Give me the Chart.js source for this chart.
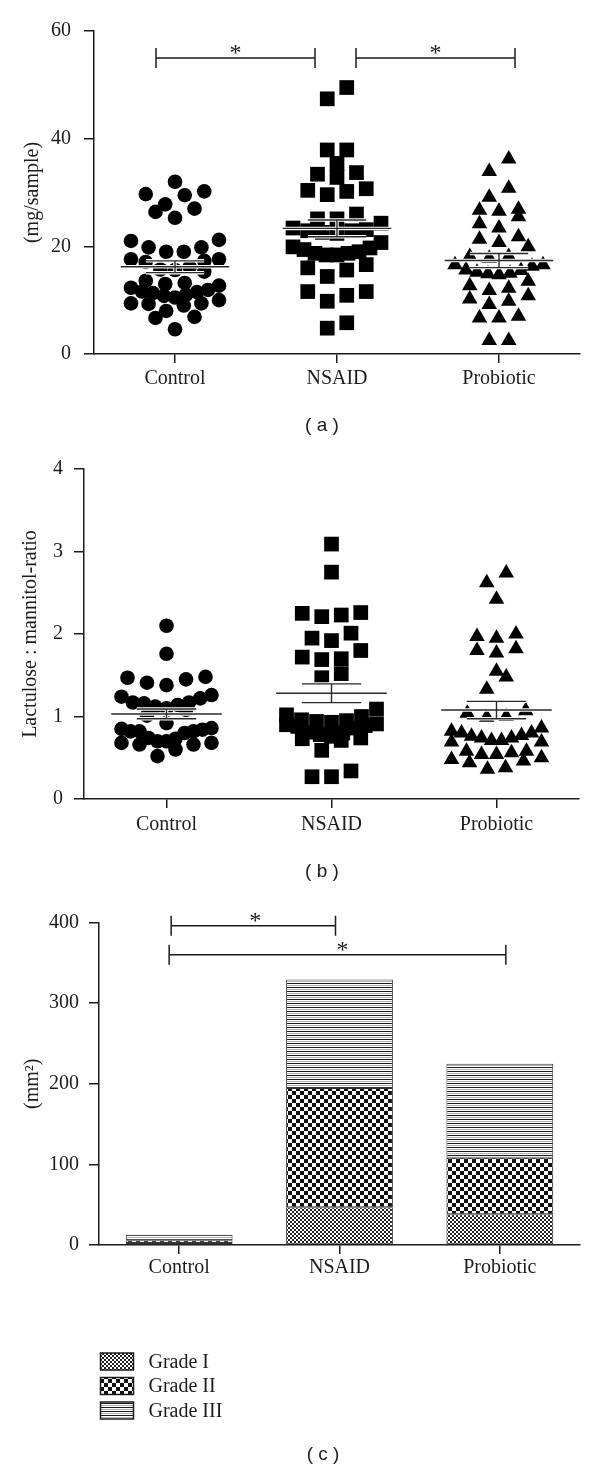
<!DOCTYPE html>
<html>
<head>
<meta charset="utf-8">
<script src="https://cdn.jsdelivr.net/npm/chart.js@4.4.1/dist/chart.umd.min.js"></script>
<style>
html, body { margin: 0; padding: 0; background: #fff; }
#wrap { position: relative; width: 600px; height: 1471px; overflow: hidden; background: #fff; }
canvas { position: absolute; left: 0; }
</style>
</head>
<body>
<div id="wrap">
  <canvas id="chartA" width="600" height="460" style="top:0px"></canvas>
  <canvas id="chartB" width="600" height="460" style="top:440px"></canvas>
  <canvas id="chartC" width="600" height="576" style="top:895px"></canvas>
</div>
<script>
// groups
var groups = ['Control', 'NSAID', 'Probiotic'];

// (a) mg/sample
var fecalControl = [32.0, 30.2, 29.5, 29.7, 27.8, 27.0, 26.4, 25.3, 21.2, 21.0, 19.8, 19.0, 19.8, 19.0, 17.6, 17.3, 17.1, 17.6,
    15.7, 15.3, 15.6, 16.2, 13.0, 12.7, 13.2, 13.6, 11.5, 10.8, 10.0, 9.4, 9.3, 11.6, 9.4, 10.5, 11.3, 11.0, 11.9, 12.3, 9.0,
    6.9, 6.7, 8.0, 4.6];
var fecalNsaid = [49.5, 47.4, 37.9, 35.4, 37.9, 32.8, 33.4, 33.7, 30.4, 29.6, 30.2, 30.7, 26.0, 25.1, 25.1, 23.4, 22.9, 22.4,
    22.6, 22.9, 23.1, 24.3, 20.7, 19.7, 19.0, 18.4, 18.4, 18.7, 18.7, 19.4, 19.9, 16.0, 16.6, 15.6, 14.4, 11.6, 10.9, 11.6,
    9.8, 4.8, 5.8];
var fecalProbiotic = [36.2, 33.9, 30.8, 29.1, 26.7, 25.5, 26.5, 26.9, 23.4, 24.2, 21.3, 20.7, 21.8, 19.9, 17.8, 18.1, 18.1,
    16.6, 16.3, 15.6, 15.0, 14.7, 14.9, 15.2, 15.5, 16.6, 13.5, 12.2, 11.8, 12.7, 10.2, 9.2, 10.8, 9.8, 6.7, 6.7, 7.0, 2.5, 2.5];

// (b) lactulose:mannitol ratio
var lmControl = [2.10, 1.76, 1.47, 1.41, 1.38, 1.45, 1.48, 1.26, 1.22, 1.17, 1.14, 1.10, 1.08, 1.12, 1.16, 1.17, 1.24, 1.01,
    0.92, 0.85, 0.82, 0.82, 0.80, 0.82, 0.84, 0.86, 0.74, 0.70, 0.68, 0.66, 0.66, 0.68, 0.70, 0.73, 0.60, 0.52];
var lmNsaid = [3.09, 2.75, 2.25, 2.21, 2.26, 2.23, 2.01, 1.95, 1.92, 1.80, 1.70, 1.72, 1.69, 1.52, 1.47, 1.09, 1.00, 0.94,
    0.90, 0.88, 0.89, 0.91, 0.96, 1.02, 0.93, 0.86, 0.95, 0.80, 0.74, 0.71, 0.73, 0.78, 0.81, 0.76, 0.59, 0.34, 0.27, 0.27];
var lmProbiotic = [2.74, 2.62, 2.42, 1.97, 2.00, 1.95, 1.82, 1.77, 1.80, 1.55, 1.48, 1.33, 1.04, 1.00, 0.99, 1.07, 0.86,
    0.80, 0.76, 0.74, 0.71, 0.69, 0.69, 0.71, 0.74, 0.77, 0.80, 0.82, 0.58, 0.56, 0.54, 0.48, 0.44, 0.36, 0.38, 0.46, 0.50,
    0.54, 0.58];

// (c) mm2 by grade
var gradeLabels = ['Grade I', 'Grade II', 'Grade III'];
var gradeI = [2.5, 46.8, 38.1];
var gradeII = [3.5, 147.9, 70.0];
var gradeIII = [6.8, 134.7, 116.9];

// significance: [group from, group to, level]
var sigA = [[0, 1, 55], [1, 2, 55]];
var sigC = [[0, 1, 396], [0, 2, 360]];

var SERIF = '"Liberation Serif", "Times New Roman", serif';
var SANS = '"Liberation Sans", Arial, sans-serif';
var INK = '#1c1c1c';

function makePattern(w, h, draw) {
    var c = document.createElement('canvas');
    c.width = w; c.height = h;
    var g = c.getContext('2d');
    g.fillStyle = '#fff';
    g.fillRect(0, 0, w, h);
    draw(g);
    return c.getContext('2d').createPattern(c, 'repeat');
}
var patI = makePattern(4, 4, function(g) {
    g.fillStyle = '#222';
    g.fillRect(0, 0, 2, 2); g.fillRect(2, 2, 2, 2);
});
var patII = makePattern(8, 8, function(g) {
    g.fillStyle = '#111';
    g.fillRect(0, 0, 4, 4); g.fillRect(4, 4, 4, 4);
});
var patIII = makePattern(4, 4, function(g) {
    g.fillStyle = '#1a1a1a';
    g.fillRect(0, 0, 4, 1);
    g.fillStyle = '#b0b0b0';
    g.fillRect(0, 2, 4, 1);
});

function meanSem(vals) {
    var n = vals.length;
    var m = vals.reduce(function(a, b) { return a + b; }, 0) / n;
    var sd = Math.sqrt(vals.reduce(function(a, b) { return a + (b - m) * (b - m); }, 0) / (n - 1));
    return { m: m, se: sd / Math.sqrt(n) };
}

function summaryPoints(series) {
    var pts = [];
    series.forEach(function(vals, i) {
        var g = i + 1, s = meanSem(vals);
        pts.push({ x: g - 0.335, y: s.m }, { x: g + 0.335, y: s.m }, { x: g, y: null },
            { x: g - 0.18, y: s.m + s.se }, { x: g + 0.18, y: s.m + s.se }, { x: g, y: null },
            { x: g - 0.18, y: s.m - s.se }, { x: g + 0.18, y: s.m - s.se }, { x: g, y: null },
            { x: g, y: s.m - s.se }, { x: g, y: s.m + s.se }, { x: g, y: null });
    });
    return pts;
}

// annotation plugin: brackets, stars, caption, pattern legend
var annot = {
    id: 'annot',
    afterDatasetsDraw: function(chart, args, opts) {
        var ctx = chart.ctx, x = chart.scales.x, y = chart.scales.y;
        ctx.save();
        ctx.strokeStyle = INK;
        ctx.fillStyle = INK;
        ctx.lineWidth = 1.5;
        (opts.brackets || []).forEach(function(b) {
            var x0 = x.getPixelForValue(b.from) + b.dx[0];
            var x1 = x.getPixelForValue(b.to) + b.dx[1];
            var yy = y.getPixelForValue(b.level);
            ctx.beginPath();
            ctx.moveTo(x0, yy); ctx.lineTo(x1, yy);
            ctx.moveTo(x0, yy - 10); ctx.lineTo(x0, yy + 10);
            ctx.moveTo(x1, yy - 10); ctx.lineTo(x1, yy + 10);
            ctx.stroke();
            ctx.font = '24px ' + SERIF;
            ctx.textAlign = 'center';
            ctx.textBaseline = 'alphabetic';
            ctx.fillText('*', (x0 + x1) / 2 + (b.starDx || 0), yy + 2);
        });
        if (opts.legend) {
            var L = opts.legend;
            ctx.font = '20px ' + SERIF;
            ctx.textAlign = 'left';
            ctx.textBaseline = 'middle';
            chart.data.datasets.forEach(function(ds, i) {
                var top = L.y + i * L.gap;
                ctx.fillStyle = ds.backgroundColor;
                ctx.fillRect(L.x, top, L.w, L.h);
                ctx.strokeRect(L.x, top, L.w, L.h);
                ctx.fillStyle = INK;
                ctx.fillText(ds.label, L.textX, top + L.h / 2 + 1);
            });
        }
        if (opts.caption) {
            ctx.fillStyle = INK;
            ctx.font = '19px ' + SANS;
            ctx.textAlign = 'center';
            ctx.textBaseline = 'middle';
            ctx.fillText(opts.caption.text, opts.caption.x, opts.caption.y);
        }
        ctx.restore();
    }
};

function yScale(max, step, title, axisX, titlePad, tickPad) {
    return {
        type: 'linear', min: 0, max: max,
        ticks: { stepSize: step, padding: tickPad, color: INK, font: { family: SERIF, size: 20 } },
        grid: { drawOnChartArea: false, tickLength: 10, color: INK, lineWidth: 1.5 },
        border: { color: INK, width: 1.5 },
        title: { display: true, text: title, color: INK, font: { family: SERIF, size: 20 }, padding: { top: titlePad, bottom: 0 } },
        afterFit: function(s) { s.width = axisX; s.paddingTop = 0; s.paddingBottom = 0; }
    };
}

function xScaleDots(tickPad) {
    return {
        type: 'linear', min: 0.5, max: 3.5,
        afterBuildTicks: function(s) { s.ticks = groups.map(function(g, i) { return { value: i + 1 }; }); },
        ticks: { padding: tickPad, color: INK, font: { family: SERIF, size: 20 }, autoSkip: false, maxRotation: 0,
            callback: function(v) { return groups[Math.round(v) - 1]; } },
        grid: { drawOnChartArea: false, tickLength: 9, color: INK, lineWidth: 1.5 },
        border: { color: INK, width: 1.5 },
        afterFit: function(s) { s.height = 40; s.paddingLeft = 0; s.paddingRight = 0; }
    };
}

function dotDatasets(series, shapes, radii) {
    var sets = [
        { label: 'Mean', data: summaryPoints(series), showLine: true, pointRadius: 0, borderColor: '#2a2a2a', borderWidth: 1.4, order: 0 },
        { label: 'halo', data: summaryPoints(series), showLine: true, pointRadius: 0, borderColor: '#fff', borderWidth: 3.5, order: 1 }
    ];
    series.forEach(function(vals, i) {
        sets.push({
            label: groups[i],
            data: vals.map(function(v) { return { x: i + 1, y: v }; }),
            pointStyle: shapes[i], pointRadius: radii[i], pointBorderWidth: 0,
            backgroundColor: '#000', borderColor: '#000', order: 2
        });
    });
    return sets;
}

// place each group's dots side by side in rows, the way a dot plot does
function spreadDots(chart, dsStart, series, binPx, maxStep, maxWidth) {
    var xs = chart.scales.x, ys = chart.scales.y;
    series.forEach(function(vals, gi) {
        var cx = xs.getPixelForValue(gi + 1);
        var items = vals.map(function(v, i) { return { v: v, i: i, py: ys.getPixelForValue(v) }; })
            .sort(function(a, b) { return a.v - b.v; });
        var out = [], k = 0;
        while (k < items.length) {
            var start = items[k].py, bin = [];
            while (k < items.length && start - items[k].py < binPx) bin.push(items[k++]);
            var n = bin.length, step = n > 1 ? Math.min(maxStep, maxWidth / (n - 1)) : 0, slots = [];
            for (var j = 0; j < n; j++) slots.push((j - (n - 1) / 2) * step);
            slots.sort(function(a, b) { return Math.abs(a) - Math.abs(b) || a - b; });
            bin.forEach(function(it, j) { out[it.i] = { x: xs.getValueForPixel(cx + slots[j]), y: it.v }; });
        }
        chart.data.datasets[dsStart + gi].data = out;
    });
    chart.update('none');
}

var seriesA = [fecalControl, fecalNsaid, fecalProbiotic];
var chartA = new Chart(document.getElementById('chartA'), {
    type: 'scatter',
    data: { datasets: dotDatasets(seriesA, ['circle', 'rect', 'triangle'], [7.3, 10.4, 9]) },
    options: {
        responsive: false, animation: false,
        layout: { padding: { left: 0, right: 20, top: 31, bottom: 66 } },
        plugins: {
            legend: { display: false }, tooltip: { enabled: false },
            annot: {
                brackets: [
                    { from: sigA[0][0] + 1, to: sigA[0][1] + 1, level: sigA[0][2], dx: [-19, -22] },
                    { from: sigA[1][0] + 1, to: sigA[1][1] + 1, level: sigA[1][2], dx: [19, 16] }
                ],
                caption: { text: '( a )', x: 322, y: 426 }
            }
        },
        scales: { x: xScaleDots(4), y: yScale(60, 20, '(mg/sample)', 94, 20.5, 13) }
    },
    plugins: [annot]
});
spreadDots(chartA, 2, seriesA, 13, 19.5, 88);

var seriesB = [lmControl, lmNsaid, lmProbiotic];
var chartB = new Chart(document.getElementById('chartB'), {
    type: 'scatter',
    data: { datasets: dotDatasets(seriesB, ['circle', 'rect', 'triangle'], [7.3, 10.4, 9]) },
    options: {
        responsive: false, animation: false,
        layout: { padding: { left: 0, right: 21, top: 29, bottom: 61 } },
        plugins: {
            legend: { display: false }, tooltip: { enabled: false },
            annot: { caption: { text: '( b )', x: 322, y: 432 } }
        },
        scales: { x: xScaleDots(5), y: yScale(4, 1, 'Lactulose : mannitol-ratio', 84, 18.6, 11) }
    },
    plugins: [annot]
});
spreadDots(chartB, 2, seriesB, 14, 19.5, 90);

var chartC = new Chart(document.getElementById('chartC'), {
    type: 'bar',
    data: {
        labels: groups,
        datasets: [
            { label: gradeLabels[0], data: gradeI, backgroundColor: patI },
            { label: gradeLabels[1], data: gradeII, backgroundColor: patII },
            { label: gradeLabels[2], data: gradeIII, backgroundColor: patIII }
        ]
    },
    options: {
        responsive: false, animation: false,
        layout: { padding: { left: 0, right: 20, top: 27.6, bottom: 186 } },
        datasets: { bar: { barPercentage: 0.666, categoryPercentage: 1, borderColor: '#333', borderWidth: 1, borderSkipped: false } },
        plugins: {
            legend: { display: false }, tooltip: { enabled: false },
            annot: {
                brackets: [
                    { from: sigC[0][0], to: sigC[0][1], level: sigC[0][2], dx: [-8, -4], starDx: 2 },
                    { from: sigC[1][0], to: sigC[1][1], level: sigC[1][2], dx: [-10, 6], starDx: 5 }
                ],
                legend: { x: 100.5, y: 458, w: 33, h: 17, gap: 24.5, textX: 148.5 },
                caption: { text: '( c )', x: 323, y: 560 }
            }
        },
        scales: {
            x: {
                stacked: true, offset: true,
                ticks: { padding: 2, color: INK, font: { family: SERIF, size: 20 }, maxRotation: 0 },
                grid: { offset: false, drawOnChartArea: false, tickLength: 9, color: INK, lineWidth: 1.5 },
                border: { color: INK, width: 1.5 },
                afterFit: function(s) { s.height = 40; s.paddingLeft = 0; s.paddingRight = 0; }
            },
            y: Object.assign(yScale(400, 100, '(mm\u00B2)', 99, 20.6, 10), { stacked: true })
        }
    },
    plugins: [annot]
});
</script>
</body>
</html>
